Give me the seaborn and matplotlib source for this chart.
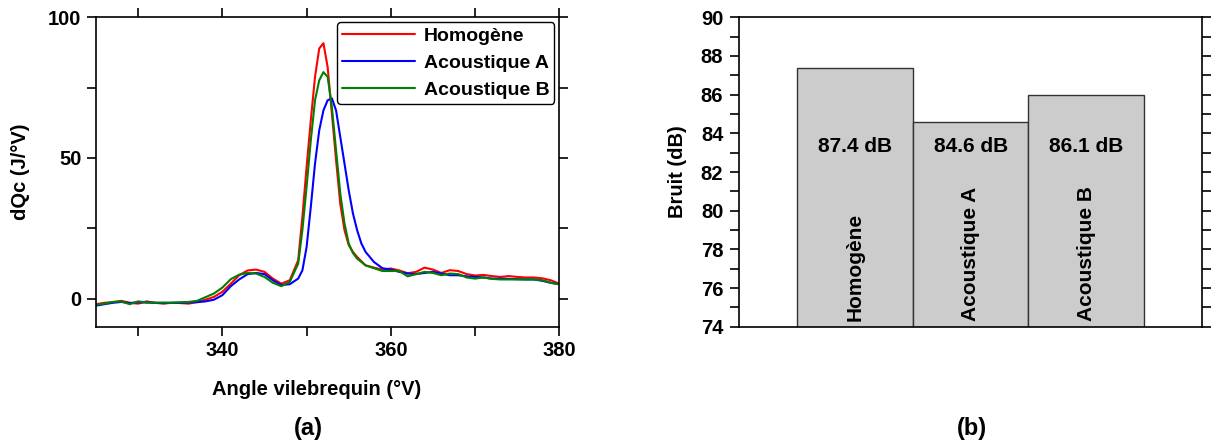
import matplotlib
matplotlib.use("Agg")
import matplotlib.pyplot as plt
from matplotlib.ticker import MultipleLocator
import seaborn as sns
import pandas as pd

# ---------------- data ----------------
angles = [325, 326, 327, 328, 329, 330, 331, 332, 333, 334, 335, 336, 337, 338, 339,
          340, 341, 342, 343, 344, 345, 346, 347, 348,
          349, 349.5, 350, 350.5, 351, 351.5, 352, 352.5, 353, 353.5, 354, 354.5,
          355, 355.5, 356, 356.5, 357,
          358, 359, 360, 361, 362, 363, 364, 365, 366, 367, 368, 369, 370, 371, 372,
          373, 374, 375, 376, 377, 378, 379, 380]

homogene = [-2.0, -1.5, -1.3, -0.8, -1.5, -1.8, -1.0, -1.5, -1.8, -1.5, -1.6, -1.8, -1.2, -0.4, 0.6,
            2.4, 5.3, 8.3, 10.0, 10.3, 9.5, 7.1, 5.3, 6.5,
            13.6, 29.0, 46.8, 63.4, 78.8, 88.9, 90.8, 82.3, 65.8, 49.2, 33.7, 24.3,
            19.0, 16.6, 14.8, 13.3, 11.8,
            11.0, 10.3, 10.7, 10.0, 9.0, 9.5, 11.0, 10.3, 9.1, 10.1, 9.8, 8.7, 8.2, 8.4, 8.0,
            7.7, 8.0, 7.7, 7.5, 7.5, 7.2, 6.5, 5.3]

acoustique_a = [-2.5, -2.0, -1.5, -1.2, -1.6, -1.3, -1.4, -1.5, -1.6, -1.5, -1.5, -1.4, -1.3, -1.0, -0.4,
                1.2, 4.4, 6.8, 8.7, 9.1, 8.7, 6.5, 4.8, 5.1,
                7.1, 10.0, 18.3, 32.6, 48.0, 59.8, 66.9, 70.5, 71.2, 66.9, 57.4, 48.0,
                38.5, 30.3, 24.3, 19.6, 16.6,
                13.0, 10.8, 10.3, 9.5, 8.9, 8.7, 9.1, 9.5, 8.9, 8.3, 8.3, 7.9, 7.7, 7.5, 7.1,
                7.1, 7.0, 6.9, 6.8, 6.8, 6.3, 5.6, 5.1]

acoustique_b = [-2.2, -1.8, -1.2, -1.0, -2.0, -1.0, -1.4, -1.5, -1.4, -1.5, -1.3, -1.2, -0.8, 0.5, 1.8,
                3.9, 6.9, 8.5, 9.1, 8.9, 7.7, 5.6, 4.4, 5.9,
                12.4, 24.3, 39.7, 56.3, 70.5, 77.6, 80.5, 78.8, 68.1, 52.7, 37.3, 26.7,
                19.6, 16.2, 14.2, 13.0, 11.8,
                10.8, 9.8, 9.8, 9.8, 7.9, 8.7, 9.5, 9.1, 8.3, 8.9, 8.7, 7.5, 7.1, 7.5, 7.0,
                6.8, 6.8, 6.8, 6.8, 6.8, 6.5, 5.6, 5.1]

series_names = ["Homogène", "Acoustique A", "Acoustique B"]
series_colors = ["#ff0000", "#0000ff", "#008000"]

bar_categories = ["Homogène", "Acoustique A", "Acoustique B"]
bar_values = [87.4, 84.6, 86.0]
bar_labels = ["87.4 dB", "84.6 dB", "86.1 dB"]

x_ticks = [340, 360, 380]
y_ticks_a = [0, 50, 100]
y_ticks_b = [74, 76, 78, 80, 82, 84, 86, 88, 90]

# ---------------- style ----------------
sns.set_style("ticks")
plt.rcParams["font.family"] = ["Liberation Sans", "DejaVu Sans"]
plt.rcParams["font.weight"] = "bold"
plt.rcParams["axes.linewidth"] = 1.2
for k in ["text.color", "axes.labelcolor", "xtick.color", "ytick.color", "axes.edgecolor"]:
    plt.rcParams[k] = "black"

FS = 14.5

fig = plt.figure(figsize=(12.11, 4.41), dpi=100)

# ---------------- panel (a) ----------------
ax1 = fig.add_axes([96 / 1211, 1 - 326.7 / 441, (559.3 - 96) / 1211, (326.7 - 17.3) / 441])

frames = []
for name, vals in zip(series_names, [homogene, acoustique_a, acoustique_b]):
    frames.append(pd.DataFrame({"angle": angles, "dQc": vals, "serie": name}))
df = pd.concat(frames, ignore_index=True)

sns.lineplot(data=df, x="angle", y="dQc", hue="serie", hue_order=series_names,
             palette=series_colors, linewidth=1.5, ax=ax1, sort=False)

ax1.set_xlim(325, 380)
ax1.set_ylim(-10, 100)
xt = [330, 340, 350, 360, 370, 380]
ax1.set_xticks(xt)
ax1.set_xticklabels([str(t) if t in x_ticks else "" for t in xt])
yt = [0, 25, 50, 75, 100]
ax1.set_yticks(yt)
ax1.set_yticklabels([str(t) if t in y_ticks_a else "" for t in yt])
ax1.tick_params(axis="both", which="both", direction="out", length=6.5, width=1.2,
                top=True, right=True, labelsize=FS, pad=4)
for lab in ax1.get_xticklabels() + ax1.get_yticklabels():
    lab.set_fontweight("bold")
ax1.set_xlabel("Angle vilebrequin (°V)", fontsize=FS, fontweight="bold", labelpad=14)
ax1.xaxis.label.set_x(0.477)
ax1.set_ylabel("dQc (J/°V)", fontsize=FS, fontweight="bold", labelpad=13)

leg = ax1.legend(loc="upper right", fontsize=14, frameon=True, fancybox=True,
                 handlelength=3.75, handletextpad=0.45, labelspacing=0.5,
                 borderpad=0.25, borderaxespad=0.25, title=None)
leg.get_frame().set_edgecolor("black")
leg.get_frame().set_linewidth(1.0)
leg.get_frame().set_alpha(1)
for t in leg.get_texts():
    t.set_fontweight("bold")
for l in leg.get_lines():
    l.set_linewidth(1.5)

# ---------------- panel (b) ----------------
ax2 = fig.add_axes([739.3 / 1211, 1 - 326.7 / 441, (1202 - 739.3) / 1211, (326.7 - 17.3) / 441])

dfb = pd.DataFrame({"cat": bar_categories, "val": bar_values})
sns.barplot(data=dfb, x="cat", y="val", order=bar_categories, color="#cccccc",
            saturation=1, width=1.0, edgecolor="#333333", linewidth=1.0, ax=ax2)

ax2.set_xlim(-1, 3)
ax2.set_ylim(74, 90)
ax2.set_yticks(y_ticks_b)
ax2.yaxis.set_minor_locator(MultipleLocator(1))
ax2.set_xticks([])
ax2.set_xlabel("")
ax2.set_ylabel("Bruit (dB)", fontsize=FS, fontweight="bold", labelpad=10)
ax2.tick_params(axis="y", which="both", direction="out", length=6.5, width=1.2,
                left=True, right=True, labelsize=FS, pad=5)
for lab in ax2.get_yticklabels():
    lab.set_fontweight("bold")

for i, (cat, lab) in enumerate(zip(bar_categories, bar_labels)):
    ax2.text(i, 83.3, lab, ha="center", va="center", fontsize=FS + 0.5, fontweight="bold",
             color="black")
    ax2.text(i, 74.3, cat, ha="center", va="bottom", rotation=90, fontsize=FS + 0.5,
             fontweight="bold", color="black")

fig.text(308 / 1211, 1 - 428 / 441, "(a)", ha="center", va="center", fontsize=17, fontweight="bold")
fig.text(972 / 1211, 1 - 428 / 441, "(b)", ha="center", va="center", fontsize=17, fontweight="bold")

fig.savefig("out.png", dpi=100)
